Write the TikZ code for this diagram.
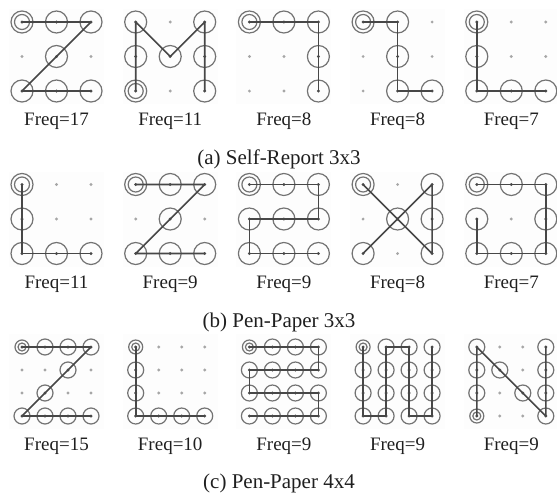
\documentclass[tikz,border=0pt]{standalone}
\usepackage{fontspec}
\setmainfont{Liberation Serif}
\tikzset{
  bgsq/.style={fill=black!0.8},
  dotc/.style={fill=black!35},
  cdot/.style={fill=black!70},
  ringc/.style={draw=black!55,line width=1.2pt},
  pline/.style={draw=black!72,line width=1.6pt,line join=round,line cap=round},
  freqlbl/.style={anchor=base,font=\fontsize{19}{22}\selectfont,text=black!88,inner sep=0pt},
  caplbl/.style={anchor=base,font=\fontsize{21}{24}\selectfont,text=black!88,inner sep=0pt},
}
% #1 name, #2 last index, #3 x0, #4 y0, #5 step
\newcommand{\mkgrid}[5]{%
  \fill[bgsq] ({#3-13},{#4-13}) rectangle ({#3+#2*#5+13},{#4+#2*#5+13});
  \foreach \c in {0,...,#2}{\foreach \r in {0,...,#2}{
    \coordinate (#1-\c-\r) at ({#3+\c*#5},{#4+\r*#5});
    \fill[dotc] (#1-\c-\r) circle (1.6);
  }}%
}
% #1 ring radius, #2 list of points
\newcommand{\rings}[2]{\foreach \p in {#2}{\draw[ringc] (\p) circle (#1); \fill[cdot] (\p) circle (1.5);}}
% #1 point, #2 outer radius, #3 inner radius
\newcommand{\startmark}[3]{\draw[ringc] (#1) circle (#2); \draw[ringc] (#1) circle (#3); \fill[cdot] (#1) circle (1.5);}
\begin{document}
\begin{tikzpicture}[x=1pt,y=-1pt]
\useasboundingbox (0,0) rectangle (557,493);
\def\sA{34.5}
\def\sB{23}
% ---------------- Row (a) ----------------
\mkgrid{a1}{2}{22}{22}{\sA}
\mkgrid{a2}{2}{135.7}{22}{\sA}
\mkgrid{a3}{2}{249.4}{22}{\sA}
\mkgrid{a4}{2}{363.1}{22}{\sA}
\mkgrid{a5}{2}{476.8}{22}{\sA}
% a1 Z
\rings{11}{a1-1-0,a1-2-0,a1-1-1,a1-0-2,a1-1-2,a1-2-2}
\startmark{a1-0-0}{11}{7.5}
\draw[pline] (a1-0-0) -- (a1-1-0) -- (a1-2-0) -- (a1-1-1) -- (a1-0-2) -- (a1-1-2) -- (a1-2-2);
% a2 M
\rings{11}{a2-0-1,a2-0-0,a2-1-1,a2-2-0,a2-2-1,a2-2-2}
\startmark{a2-0-2}{11}{7.5}
\draw[pline] (a2-0-2) -- (a2-0-1) -- (a2-0-0) -- (a2-1-1) -- (a2-2-0) -- (a2-2-1) -- (a2-2-2);
% a3
\rings{11}{a3-1-0,a3-2-0,a3-2-1,a3-2-2}
\startmark{a3-0-0}{11}{7.5}
\draw[pline] (a3-0-0) -- (a3-1-0) -- (a3-2-0) -- (a3-2-1) -- (a3-2-2);
% a4
\rings{11}{a4-1-0,a4-1-1,a4-1-2,a4-2-2}
\startmark{a4-0-0}{11}{7.5}
\draw[pline] (a4-0-0) -- (a4-1-0) -- (a4-1-1) -- (a4-1-2) -- (a4-2-2);
% a5 L
\rings{11}{a5-0-1,a5-0-2,a5-1-2,a5-2-2}
\startmark{a5-0-0}{11}{7.5}
\draw[pline] (a5-0-0) -- (a5-0-1) -- (a5-0-2) -- (a5-1-2) -- (a5-2-2);
\node[freqlbl] (fa1) at (56.5,125) {Freq=17};
\node[freqlbl] (fa2) at (170.2,125) {Freq=11};
\node[freqlbl] (fa3) at (283.9,125) {Freq=8};
\node[freqlbl] (fa4) at (397.6,125) {Freq=8};
\node[freqlbl] (fa5) at (511.3,125) {Freq=7};
\node[caplbl] (capa) at (279,164) {(a) Self-Report 3x3};
% ---------------- Row (b) ----------------
\mkgrid{b1}{2}{22}{184.5}{\sA}
\mkgrid{b2}{2}{135.7}{184.5}{\sA}
\mkgrid{b3}{2}{249.4}{184.5}{\sA}
\mkgrid{b4}{2}{363.1}{184.5}{\sA}
\mkgrid{b5}{2}{476.8}{184.5}{\sA}
% b1 L
\rings{11}{b1-0-1,b1-0-2,b1-1-2,b1-2-2}
\startmark{b1-0-0}{11}{7.5}
\draw[pline] (b1-0-0) -- (b1-0-1) -- (b1-0-2) -- (b1-1-2) -- (b1-2-2);
% b2 Z
\rings{11}{b2-1-0,b2-2-0,b2-1-1,b2-0-2,b2-1-2,b2-2-2}
\startmark{b2-0-0}{11}{7.5}
\draw[pline] (b2-0-0) -- (b2-1-0) -- (b2-2-0) -- (b2-1-1) -- (b2-0-2) -- (b2-1-2) -- (b2-2-2);
% b3 S
\rings{11}{b3-1-0,b3-2-0,b3-2-1,b3-1-1,b3-0-1,b3-0-2,b3-1-2,b3-2-2}
\startmark{b3-0-0}{11}{7.5}
\draw[pline] (b3-0-0) -- (b3-1-0) -- (b3-2-0) -- (b3-2-1) -- (b3-1-1) -- (b3-0-1) -- (b3-0-2) -- (b3-1-2) -- (b3-2-2);
% b4
\rings{11}{b4-1-1,b4-2-2,b4-2-1,b4-2-0,b4-0-2}
\startmark{b4-0-0}{11}{7.5}
\draw[pline] (b4-0-0) -- (b4-1-1) -- (b4-2-2) -- (b4-2-1) -- (b4-2-0) -- (b4-1-1) -- (b4-0-2);
% b5
\rings{11}{b5-1-0,b5-2-0,b5-2-1,b5-2-2,b5-1-2,b5-0-2,b5-0-1}
\startmark{b5-0-0}{11}{7.5}
\draw[pline] (b5-0-0) -- (b5-1-0) -- (b5-2-0) -- (b5-2-1) -- (b5-2-2) -- (b5-1-2) -- (b5-0-2) -- (b5-0-1);
\node[freqlbl] (fb1) at (56.5,288) {Freq=11};
\node[freqlbl] (fb2) at (170.2,288) {Freq=9};
\node[freqlbl] (fb3) at (283.9,288) {Freq=9};
\node[freqlbl] (fb4) at (397.6,288) {Freq=8};
\node[freqlbl] (fb5) at (511.3,288) {Freq=7};
\node[caplbl] (capb) at (279,327) {(b) Pen-Paper 3x3};
% ---------------- Row (c) ----------------
\mkgrid{c1}{3}{22}{347}{\sB}
\mkgrid{c2}{3}{135.7}{347}{\sB}
\mkgrid{c3}{3}{249.4}{347}{\sB}
\mkgrid{c4}{3}{363.1}{347}{\sB}
\mkgrid{c5}{3}{476.8}{347}{\sB}
% c1 Z
\rings{8}{c1-1-0,c1-2-0,c1-3-0,c1-2-1,c1-1-2,c1-0-3,c1-1-3,c1-2-3,c1-3-3}
\startmark{c1-0-0}{7}{4}
\draw[pline] (c1-0-0) -- (c1-1-0) -- (c1-2-0) -- (c1-3-0) -- (c1-2-1) -- (c1-1-2) -- (c1-0-3) -- (c1-1-3) -- (c1-2-3) -- (c1-3-3);
% c2 L
\rings{8}{c2-0-1,c2-0-2,c2-0-3,c2-1-3,c2-2-3,c2-3-3}
\startmark{c2-0-0}{7}{4}
\draw[pline] (c2-0-0) -- (c2-0-1) -- (c2-0-2) -- (c2-0-3) -- (c2-1-3) -- (c2-2-3) -- (c2-3-3);
% c3 row snake
\rings{8}{c3-1-0,c3-2-0,c3-3-0,c3-0-1,c3-1-1,c3-2-1,c3-3-1,c3-0-2,c3-1-2,c3-2-2,c3-3-2,c3-0-3,c3-1-3,c3-2-3,c3-3-3}
\startmark{c3-0-0}{7}{4}
\draw[pline] (c3-0-0) -- (c3-1-0) -- (c3-2-0) -- (c3-3-0) -- (c3-3-1) -- (c3-2-1) -- (c3-1-1) -- (c3-0-1) -- (c3-0-2) -- (c3-1-2) -- (c3-2-2) -- (c3-3-2) -- (c3-3-3) -- (c3-2-3) -- (c3-1-3) -- (c3-0-3);
% c4 column snake
\rings{8}{c4-1-0,c4-2-0,c4-3-0,c4-0-1,c4-1-1,c4-2-1,c4-3-1,c4-0-2,c4-1-2,c4-2-2,c4-3-2,c4-0-3,c4-1-3,c4-2-3,c4-3-3}
\startmark{c4-0-0}{7}{4}
\draw[pline] (c4-0-0) -- (c4-0-1) -- (c4-0-2) -- (c4-0-3) -- (c4-1-3) -- (c4-1-2) -- (c4-1-1) -- (c4-1-0) -- (c4-2-0) -- (c4-2-1) -- (c4-2-2) -- (c4-2-3) -- (c4-3-3) -- (c4-3-2) -- (c4-3-1) -- (c4-3-0);
% c5 N
\rings{8}{c5-0-2,c5-0-1,c5-0-0,c5-1-1,c5-2-2,c5-3-3,c5-3-2,c5-3-1,c5-3-0}
\startmark{c5-0-3}{7}{4}
\draw[pline] (c5-0-3) -- (c5-0-2) -- (c5-0-1) -- (c5-0-0) -- (c5-1-1) -- (c5-2-2) -- (c5-3-3) -- (c5-3-2) -- (c5-3-1) -- (c5-3-0);
\node[freqlbl] (fc1) at (56.5,450) {Freq=15};
\node[freqlbl] (fc2) at (170.2,450) {Freq=10};
\node[freqlbl] (fc3) at (283.9,450) {Freq=9};
\node[freqlbl] (fc4) at (397.6,450) {Freq=9};
\node[freqlbl] (fc5) at (511.3,450) {Freq=9};
\node[caplbl] (capc) at (279,488) {(c) Pen-Paper 4x4};
\end{tikzpicture}
\end{document}
